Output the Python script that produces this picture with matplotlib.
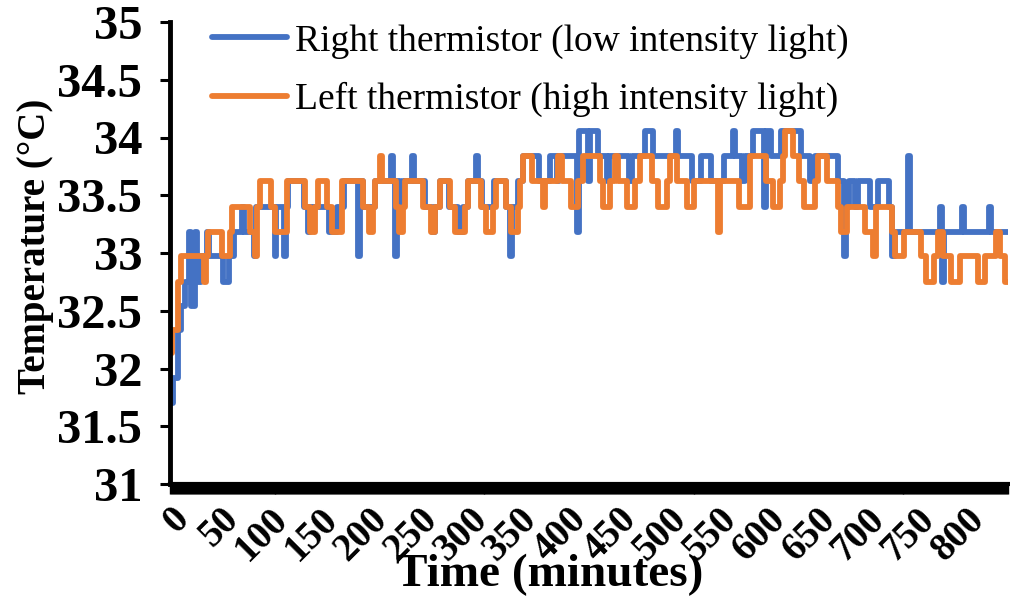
import matplotlib
matplotlib.use("Agg")
import matplotlib.pyplot as plt
import numpy as np

# ---- data: (minute, temperature) change points ----
right_thermistor = [
    (0, 31.70), (3, 31.92), (8, 32.33), (11, 32.54), (15, 32.75), (19, 33.18), (21, 32.54),
    (25, 33.18), (27, 32.75), (31, 32.97), (37, 33.18), (39, 32.97), (53, 32.75), (59, 32.97),
    (64, 33.18), (72, 33.40), (74, 33.18), (84, 32.97), (86, 33.40), (105, 32.97), (107, 33.40),
    (115, 32.97), (117, 33.40), (119, 33.62), (135, 33.40), (139, 33.18), (141, 33.40),
    (160, 33.18), (168, 33.40), (175, 33.62), (189, 32.97), (191, 33.62), (194, 33.40),
    (206, 33.62), (222, 33.84), (224, 33.62), (226, 32.97), (228, 33.62), (231, 33.40),
    (234, 33.62), (243, 33.84), (245, 33.62), (256, 33.40), (263, 33.18), (266, 33.40),
    (271, 33.62), (280, 33.40), (289, 33.18), (294, 33.40), (299, 33.62), (307, 33.84),
    (309, 33.62), (313, 33.40), (326, 33.62), (338, 33.40), (342, 32.97), (344, 33.40),
    (350, 33.62), (355, 33.84), (371, 33.62), (382, 33.84), (389, 33.62), (391, 33.84),
    (409, 33.18), (411, 34.06), (420, 33.62), (422, 34.06), (430, 33.84), (439, 33.62),
    (441, 33.84), (461, 33.62), (464, 33.84), (477, 34.06), (485, 33.84), (508, 34.06),
    (510, 33.84), (524, 33.62), (534, 33.84), (544, 33.62), (557, 33.84), (566, 34.06),
    (568, 33.84), (575, 33.62), (578, 33.84), (586, 34.06), (597, 33.40), (599, 34.06),
    (604, 33.84), (614, 34.06), (634, 33.84), (643, 33.62), (648, 33.84), (671, 33.62),
    (677, 32.97), (679, 33.40), (682, 33.62), (688, 33.40), (691, 33.62), (703, 33.40),
    (711, 33.62), (722, 33.40), (725, 32.97), (728, 33.18), (742, 33.84), (744, 33.18),
    (774, 33.40), (776, 32.75), (778, 33.18), (796, 33.40), (798, 33.18), (823, 33.40),
    (825, 33.18), (842, 33.18),
]

left_thermistor = [
    (0, 32.13), (2, 32.33), (8, 32.75), (11, 32.97), (34, 32.75), (36, 32.97), (38, 33.18),
    (52, 32.97), (60, 33.18), (62, 33.40), (80, 33.18), (85, 32.97), (87, 33.40), (90, 33.62),
    (101, 33.40), (106, 33.18), (118, 33.62), (136, 33.40), (141, 33.18), (146, 33.40),
    (149, 33.62), (158, 33.40), (163, 33.18), (173, 33.62), (194, 33.40), (200, 33.18),
    (204, 33.40), (206, 33.62), (211, 33.84), (213, 33.62), (227, 33.40), (230, 33.18),
    (234, 33.40), (236, 33.62), (254, 33.40), (262, 33.18), (266, 33.40), (271, 33.62),
    (281, 33.40), (286, 33.18), (296, 33.40), (299, 33.62), (312, 33.40), (318, 33.18),
    (325, 33.40), (328, 33.62), (338, 33.40), (343, 33.18), (350, 33.40), (352, 33.62),
    (355, 33.84), (364, 33.62), (375, 33.40), (377, 33.62), (390, 33.84), (394, 33.62),
    (403, 33.40), (410, 33.62), (415, 33.84), (432, 33.62), (435, 33.40), (442, 33.62),
    (447, 33.84), (450, 33.62), (459, 33.40), (467, 33.62), (472, 33.84), (484, 33.62),
    (490, 33.40), (499, 33.62), (502, 33.84), (509, 33.62), (519, 33.40), (527, 33.62),
    (551, 33.18), (553, 33.62), (572, 33.40), (583, 33.84), (599, 33.62), (606, 33.40),
    (613, 33.62), (616, 33.84), (618, 34.06), (626, 33.84), (632, 33.62), (637, 33.40),
    (648, 33.62), (651, 33.84), (660, 33.62), (671, 33.40), (674, 33.18), (680, 33.40),
    (698, 33.18), (706, 32.97), (709, 33.40), (725, 33.18), (728, 32.97), (738, 33.18),
    (755, 32.97), (760, 32.75), (768, 32.97), (772, 33.18), (777, 32.97), (785, 32.75),
    (794, 32.97), (812, 32.75), (819, 32.97), (830, 33.18), (834, 32.97), (839, 32.75),
    (842, 32.75),
]

series_labels = ["Right thermistor (low intensity light)",
                 "Left thermistor (high intensity light)"]
series_colors = ["#4472C4", "#ED7D31"]
x_ticks = list(range(0, 801, 50))
y_ticks = [31, 31.5, 32, 32.5, 33, 33.5, 34, 34.5, 35]
y_tick_labels = ["31", "31.5", "32", "32.5", "33", "33.5", "34", "34.5", "35"]

plt.rcParams["font.family"] = ["Liberation Serif", "DejaVu Serif"]

W, H = 1010, 601
fig = plt.figure(figsize=(W / 100, H / 100), dpi=100)
ax = fig.add_axes([170 / W, 1 - 484 / H, (1008 - 170) / W, (484 - 22) / H])

for data, lab, col in zip([right_thermistor, left_thermistor], series_labels, series_colors):
    t = [p[0] for p in data]
    v = [p[1] for p in data]
    ax.plot(t, v, drawstyle="steps-post", color=col, lw=4.2, label=lab,
            solid_joinstyle="round", solid_capstyle="round")

ax.set_xlim(0, 842)
ax.set_ylim(31, 35)
ax.set_yticks(y_ticks)
ax.set_yticklabels(y_tick_labels, fontsize=35, fontweight="bold")
ax.set_xticks(x_ticks)
ax.set_xticklabels([str(x) for x in x_ticks], rotation=45, ha="right", va="top",
                   rotation_mode="anchor", fontsize=28, fontweight="bold")
ax.set_xticks(np.arange(0, 843, 1), minor=True)

for s in ["top", "right"]:
    ax.spines[s].set_visible(False)
ax.spines["left"].set_linewidth(3.5)
ax.spines["bottom"].set_linewidth(3.0)
ax.tick_params(axis="y", which="major", length=7, width=2.2, pad=13)
ax.tick_params(axis="x", which="major", length=7, width=1, pad=5)
ax.tick_params(axis="x", which="minor", length=7, width=1)

fig.text(550 / W, 1 - 575 / H, "Time (minutes)", ha="center", va="center",
         fontsize=34, fontweight="bold")
fig.text(36 / W, 1 - 246 / H, "Temperature (°C)", ha="center", va="center",
         rotation=90, fontsize=28, fontweight="bold")

leg = ax.legend(loc="upper left", bbox_to_anchor=(212 / W, 1 - 24 / H),
                bbox_transform=fig.transFigure, frameon=False,
                prop={"size": 27, "weight": "normal"}, handlelength=2.0,
                handletextpad=0.22, labelspacing=0.62, borderpad=0, borderaxespad=0)

fig.savefig("out.png", dpi=100)
